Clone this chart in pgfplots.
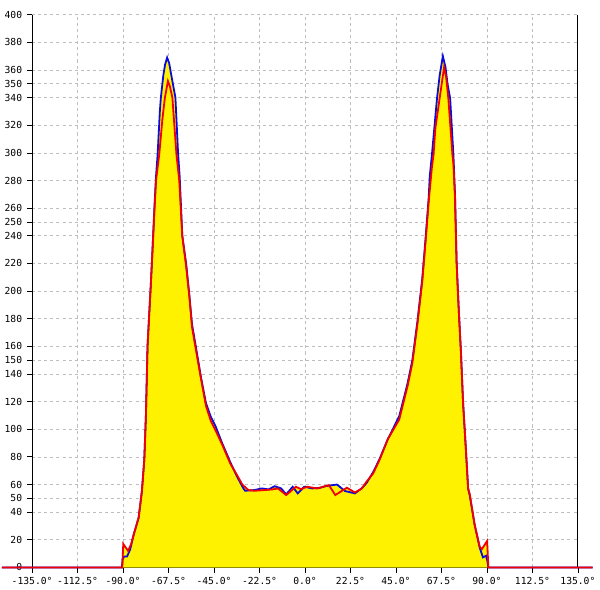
\documentclass[border=0pt]{standalone}
\usepackage{fontspec}
\setmonofont{DejaVu Sans Mono}
\usepackage{pgfplots}
\usepackage{pgfplotstable}
\pgfplotsset{compat=1.18}

\definecolor{curveblue}{RGB}{10,10,220}
\definecolor{curvered}{RGB}{240,0,0}
\definecolor{gridgray}{RGB}{190,190,190}

% angle (deg)  value
\pgfplotstableread{
x y
-150 0
-90.6 0
-90.2 6
-89.5 8
-88 8
-86.5 13
-84.7 24
-82.3 36
-80.7 55
-79.5 78
-78.7 110
-77.9 160
-77 185
-76.3 204
-75.5 228
-74.5 260
-73.7 283
-72.9 299
-71.8 330
-71.3 340
-70.1 356
-69.2 364
-68.2 369
-67.2 365
-66.1 356
-64.1 340
-62.8 300
-62 283
-60.7 240
-58.8 220
-57.2 197
-55.9 176
-53.9 159
-51.5 138
-49 119
-46.6 109
-44.2 102
-41 90
-36.9 76
-33.7 66
-30.4 57
-29.6 55.5
-25 56
-21.5 57.2
-18 56.5
-15 58.8
-11.8 57.2
-9.3 52.9
-6.1 58.4
-3.6 53.6
-0.4 58.4
3.6 57.2
7 57.5
10.1 58.8
15.8 60
19.8 55.3
24.7 53.6
28 57.2
30.4 61
33.7 69
36.9 78.5
41 93
41.7 95
46.6 109.4
50.7 133
53.1 150
55.6 178
58 209
59.6 237.5
61.2 268
61.7 283
62.8 299
65.3 339.5
66.6 356
68.2 370
69.5 362
70.5 350
71.8 339.5
73.4 299
74.2 270
75 221
76.1 185
77.1 157
78.2 119
79.4 90
80.7 57
81.5 52
83.9 31
86.4 14.5
88 7.3
89.6 8.5
90.3 4
90.7 0
142.3 0
}\bluedata

\pgfplotstableread{
x y
-150 0
-90.4 0
-89.9 17
-87.5 12
-86 17
-84.7 24
-82.3 36
-80.7 55
-79.5 78
-78.7 110
-77.9 160
-77 185
-76.3 204
-75.5 228
-74.5 258
-73.7 280
-72.1 299
-70.5 325
-69.3 340
-67.8 352
-66.8 348
-65.6 340
-63.6 299
-62.2 280
-60.7 240
-58.8 218
-57.2 196
-55.9 174
-53.9 157
-51.5 137
-49 117
-46.6 106
-44.2 99
-41 89
-36.9 75
-33.7 67
-31 60
-28 56
-25 55.5
-20 56
-16 56.5
-13.4 57.2
-9.3 52.4
-4.5 58.4
-2 56.7
1.1 58.4
6.1 57.2
11.8 59.6
15 52.4
20.7 57.7
24.7 54.3
28 57
30.4 62
33.7 68
36.9 78
41 93
46.6 107
50.7 131
53.1 148
55.6 176
58 207
59.6 235
61.2 265
62.8 290
63.6 299
64.5 318
66.6 339.5
68.8 362
69.8 355
70.9 339.5
72.9 299
73.4 292
74.2 268
75 220
76.1 185
77.1 157
78.2 119
79.4 90
80.7 57
81.5 53
83.9 31
86.4 15
87.5 13.3
90.1 19.2
90.7 0
142.3 0
}\reddata

\begin{document}
\begin{tikzpicture}
\begin{axis}[
    scale only axis,
    width=13.875cm, height=14.05cm,
    xmin=-135, xmax=135, ymin=0, ymax=400,
    clip=false,
    axis lines*=left,
    axis line style={black, line width=0.8pt},
    tick align=outside,
    major tick length=0.13cm,
    tick style={black, line width=0.6pt},
    xtick={-135,-112.5,-90,-67.5,-45,-22.5,0,22.5,45,67.5,90,112.5},
    xticklabels={-135.0°,-112.5°,-90.0°,-67.5°,-45.0°,-22.5°,0.0°,22.5°,45.0°,67.5°,90.0°,112.5°},
    extra x ticks={135},
    extra x tick labels={135.0°},
    extra x tick style={major grid style={solid, black, line width=0.8pt}},
    ytick={0,20,40,50,60,80,100,120,140,150,160,180,200,220,240,250,260,280,300,320,340,350,360,380,400},
    /pgf/number format/assume math mode=true,
    ticklabel style={font=\ttfamily\fontsize{7}{8}\selectfont},
    grid=major,
    major grid style={gridgray, dash pattern=on 2.2pt off 2.2pt, line width=0.5pt},
]
\addplot[draw=none, fill=yellow] table {\bluedata} \closedcycle;
\addplot[draw=none, fill=yellow] table {\reddata} \closedcycle;
\addplot[curveblue, line width=1.3pt] table {\bluedata};
\addplot[curvered, line width=1.3pt] table {\reddata};
\end{axis}
\path ([yshift=0.375cm]current axis.north west);
\end{tikzpicture}
\end{document}
